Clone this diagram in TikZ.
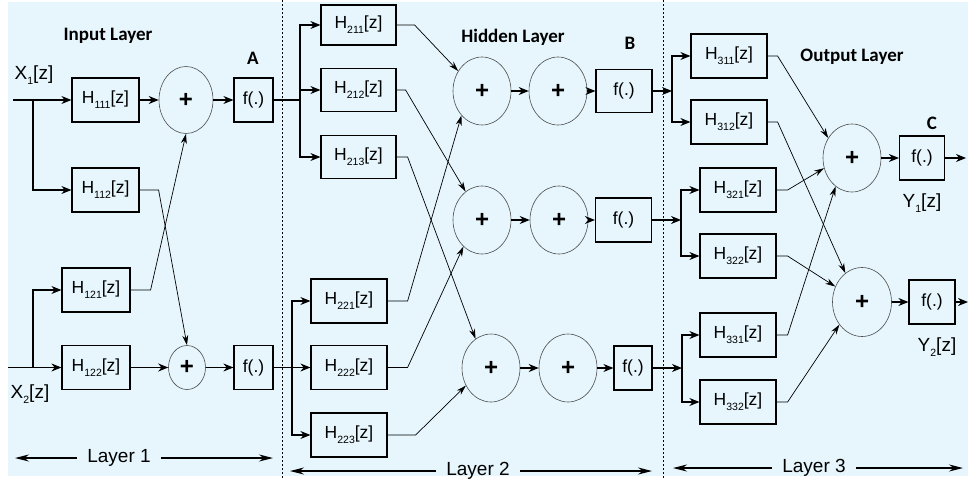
\documentclass[tikz,border=0pt]{standalone}
\usepackage{fontspec}
\setmainfont{Liberation Sans}
\newfontfamily\headfont{Carlito}
\usetikzlibrary{positioning, calc, arrows.meta, shapes.geometric}
\definecolor{paneblue}{RGB}{230,246,252}
\newcommand{\lowidx}[1]{\raisebox{-0.55ex}{\fontsize{10.5}{10.5}\selectfont #1}}

\begin{document}
\begin{tikzpicture}[
  x=1pt, y=-1pt,
  font=\fontsize{17.5}{20}\selectfont,
  filt/.style={draw, line width=1.2pt, minimum width=76pt, minimum height=44pt, inner sep=0pt},
  act/.style={draw, line width=1.2pt, minimum width=56pt, minimum height=44pt, inner sep=0pt},
  adder/.style={ellipse, draw=black!70, line width=0.6pt, minimum width=58pt, minimum height=68pt,
    inner sep=0pt, font=\bfseries\fontsize{24}{24}\selectfont},
  head/.style={font=\headfont\bfseries\fontsize{19}{22}\selectfont},
  lbl/.style={inner sep=1pt, font=\fontsize{19}{22}\selectfont},
  laylbl/.style={inner ysep=1pt, inner xsep=10pt, font=\fontsize{19}{22}\selectfont},
  wire/.style={line width=1.2pt},
  slim/.style={line width=0.7pt},
  arr/.style={-{Stealth[length=10pt, width=8pt]}},
  tip/.style={-{Stealth[length=10pt, width=6pt]}},
  longarr/.style={-{Stealth[length=14pt, width=7pt]}},
]
\useasboundingbox (0,0) rectangle (968,485);
\fill[paneblue] (8,2) rectangle (968,476);

% layer separators
\draw[line width=0.6pt, dash pattern=on 2pt off 2pt] (282,0) -- (282,478);
\draw[line width=0.6pt, dash pattern=on 2pt off 2pt] (663,0) -- (663,478);

% ---- titles ----
\node[head] (tin)  at (108,36)  {Input Layer};
\node[head] (thid) at (513,37)  {Hidden Layer};
\node[head] (tout) at (852,57)  {Output Layer};
\node[head] (ta)   at (253,58)  {A};
\node[head] (tb)   at (630,43)  {B};
\node[head] (tc)   at (932,123) {C};

% ---- layer 1 ----
\node[lbl] (x1) at (34,75)  {X\lowidx{1}[z]};
\node[lbl] (x2) at (30,394) {X\lowidx{2}[z]};
\coordinate (in1) at (13,100);
\coordinate (in2) at (8,367.5);
\coordinate (sp1) at (33,100);
\coordinate (sp2) at (33,367.5);

\node[filt, minimum width=67pt] (h111) at (105.5,100)  {H\lowidx{111}[z]};
\node[filt, minimum width=67pt] (h112) at (105.5,190)  {H\lowidx{112}[z]};
\node[filt, minimum width=68pt] (h121) at (96,290)     {H\lowidx{121}[z]};
\node[filt, minimum width=68pt] (h122) at (96,367.5)   {H\lowidx{122}[z]};
\node[adder, minimum width=54pt, minimum height=67pt] (s11) at (186,100)   {+};
\node[adder, minimum width=37pt, minimum height=44pt] (s12) at (187,367.5) {+};
\node[act, minimum width=39pt] (fa1) at (253.5,100)   {f(.)};
\node[act, minimum width=39pt] (fa2) at (253.5,367.5) {f(.)};

\draw[wire] (in1) -- (sp1);
\draw[wire, arr] (sp1) -- (h111);
\draw[wire, arr] (sp1) |- (h112);
\draw[wire] (in2) -- (sp2);
\draw[wire, arr] (sp2) -- (h122);
\draw[wire, arr] (sp2) |- (h121);
\draw[wire, arr] (h111) -- (s11);
\draw[wire, arr] (s11) -- (fa1);
\draw[wire, arr] (h122) -- (s12);
\draw[wire, arr] (s12) -- (fa2);
\draw[slim, tip] (h112.east) -- ++(19,0) -- (s12.north);
\draw[slim, tip] (h121.east) -- ++(20,0) -- (s11.south);

% ---- layer 2 ----
\coordinate (sp3) at (300,100);
\coordinate (sp4) at (292,367.5);
\node[filt, minimum width=75pt, minimum height=40pt] (h211) at (358.5,25) {H\lowidx{211}[z]};
\node[filt, minimum width=75pt, minimum height=43pt] (h212) at (358.5,90) {H\lowidx{212}[z]};
\node[filt, minimum width=75pt, minimum height=43pt] (h213) at (358.5,157) {H\lowidx{213}[z]};
\node[filt] (h221) at (349,301)   {H\lowidx{221}[z]};
\node[filt] (h222) at (349,367.5) {H\lowidx{222}[z]};
\node[filt] (h223) at (349,435)   {H\lowidx{223}[z]};

\node[adder] (s21a) at (482,91)  {+};
\node[adder] (s21b) at (558,91)  {+};
\node[act, minimum height=43pt] (f21) at (624,91) {f(.)};
\node[adder] (s22a) at (482,220) {+};
\node[adder] (s22b) at (559,220) {+};
\node[act] (f22) at (623.5,220) {f(.)};
\node[adder] (s23a) at (491,368) {+};
\node[adder] (s23b) at (568,368) {+};
\node[act, minimum width=38pt] (f23) at (633,368) {f(.)};

\draw[wire] (fa1) -- (sp3);
\draw[wire, arr] (sp3) |- (h211);
\draw[wire, arr] (sp3) |- (h212);
\draw[wire, arr] (sp3) |- (h213);
\draw[wire] (fa2) -- (sp4);
\draw[wire, arr] (sp4) |- (h221);
\draw[wire, arr] (sp4) -- (h222);
\draw[wire, arr] (sp4) |- (h223);

\draw[slim, tip] (h211.east) -- ++(18,0) -- (s21a.140);
\draw[slim, tip] (h221.east) -- ++(20,0) -- (s21a.230);
\draw[slim, tip] (h212.east) -- ++(9,0)  -- (s22a.120);
\draw[slim, tip] (h222.east) -- ++(20,0) -- (s22a.235);
\draw[slim, tip] (h213.east) -- ++(11,0) -- (s23a.118);
\draw[slim, tip] (h223.east) -- ++(28,0) -- (s23a.215);

\draw[wire, arr] (s21a) -- (s21b);
\draw[wire, arr] (s21b) -- (f21);
\draw[wire, arr] (s22a) -- (s22b);
\draw[wire, arr] (s22b) -- (f22);
\draw[wire, arr] (s23a) -- (s23b);
\draw[wire, arr] (s23b) -- (f23);

% ---- layer 3 ----
\coordinate (sp5) at (672,91);
\coordinate (sp6) at (681,220);
\coordinate (sp7) at (682,368);
\node[filt] (h311) at (729,56)  {H\lowidx{311}[z]};
\node[filt] (h312) at (729,122) {H\lowidx{312}[z]};
\node[filt] (h321) at (738,190) {H\lowidx{321}[z]};
\node[filt] (h322) at (738,256) {H\lowidx{322}[z]};
\node[filt] (h331) at (738,335) {H\lowidx{331}[z]};
\node[filt] (h332) at (738,402) {H\lowidx{332}[z]};

\node[adder] (s31) at (852,158) {+};
\node[adder, minimum width=59pt, minimum height=69pt] (s32) at (862,302) {+};
\node[act, minimum width=45pt] (f31) at (922,158) {f(.)};
\node[act, minimum width=46pt] (f32) at (932,302) {f(.)};
\node[lbl] (y1) at (922,203) {Y\lowidx{1}[z]};
\node[lbl] (y2) at (937,347) {Y\lowidx{2}[z]};
\coordinate (o1) at (966,158);
\coordinate (o2) at (968,302);

\draw[wire, arr] (f21) -- (sp5);
\draw[wire, arr] (sp5) |- (h311);
\draw[wire, arr] (sp5) |- (h312);
\draw[wire, arr] (f22) -- (sp6);
\draw[wire, arr] (sp6) |- (h321);
\draw[wire, arr] (sp6) |- (h322);
\draw[wire, arr] (f23) -- (sp7);
\draw[wire, arr] (sp7) |- (h331);
\draw[wire, arr] (sp7) |- (h332);

\draw[slim, tip] (h311.east) -- ++(10,0) -- (s31.140);
\draw[slim, tip] (h321.east) -- ++(11,0) -- (s31.200);
\draw[slim, tip] (h331.east) -- ++(11,0) -- (s31.240);
\draw[slim, tip] (h312.east) -- ++(10,0) -- (s32.120);
\draw[slim, tip] (h322.east) -- ++(11,0) -- (s32.150);
\draw[slim, tip] (h332.east) -- ++(11,0) -- (s32.225);

\draw[wire, arr] (s31) -- (f31);
\draw[wire, arr] (f31) -- (o1);
\draw[wire, arr] (s32) -- (f32);
\draw[wire, arr] (f32) -- (o2);

% ---- layer spans ----
\node[laylbl] (lay1) at (119,458) {Layer 1};
\node[laylbl] (lay2) at (478,471) {Layer 2};
\node[laylbl] (lay3) at (814,468) {Layer 3};
\coordinate (lay1l) at (15,458);
\coordinate (lay1r) at (273,458);
\coordinate (lay2l) at (290,471);
\coordinate (lay2r) at (652,471);
\coordinate (lay3l) at (673,468);
\coordinate (lay3r) at (963,468);
\draw[wire, longarr] (lay1) -- (lay1l);
\draw[wire, longarr] (lay1) -- (lay1r);
\draw[wire, longarr] (lay2) -- (lay2l);
\draw[wire, longarr] (lay2) -- (lay2r);
\draw[wire, longarr] (lay3) -- (lay3l);
\draw[wire, longarr] (lay3) -- (lay3r);

\end{tikzpicture}
\end{document}
